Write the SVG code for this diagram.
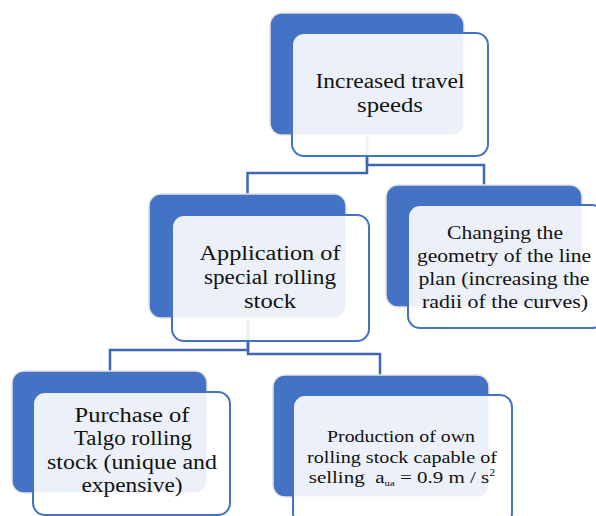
<svg xmlns="http://www.w3.org/2000/svg" width="596" height="516" viewBox="0 0 596 516">
<style>
.back{fill:#4472c4;stroke:#e4e4e4;stroke-width:1.5}
.front{fill:#ffffff;fill-opacity:0.9;stroke:#4472c4;stroke-width:2}
.conn{fill:none;stroke:#3d67b3;stroke-width:2.5}
.lbl{font-family:'Liberation Serif','Times New Roman',serif;fill:#111;text-anchor:middle}
.t20{font-size:20px}
.t19{font-size:19px}
.t17{font-size:17.5px}
</style>
<rect width="596" height="516" fill="#fff"/>
<g id="connectors">
<path class="conn" d="M367,135 V173 H247.5 V194"/>
<path class="conn" d="M367,135 V165 H484 V185"/>
<path class="conn" d="M248,318 V350 H110 V371"/>
<path class="conn" d="M248,318 V354 H380 V375"/>
</g>
<g id="n1">
<rect class="back" x="270" y="13" width="194" height="122" rx="12"/>
<rect class="front" x="292" y="33" width="196" height="123" rx="12"/>
<text class="lbl t20" x="390" y="88" textLength="149" lengthAdjust="spacingAndGlyphs">Increased travel</text>
<text class="lbl t20" x="390" y="112" textLength="66" lengthAdjust="spacingAndGlyphs">speeds</text>
</g>
<g id="n2">
<rect class="back" x="149" y="194" width="197" height="124" rx="12"/>
<rect class="front" x="172" y="215" width="197" height="126" rx="12"/>
<text class="lbl t20" x="270" y="260" textLength="141" lengthAdjust="spacingAndGlyphs">Application of</text>
<text class="lbl t20" x="270" y="284" textLength="132" lengthAdjust="spacingAndGlyphs">special rolling</text>
<text class="lbl t20" x="270" y="308" textLength="52" lengthAdjust="spacingAndGlyphs">stock</text>
</g>
<g id="n3">
<rect class="back" x="386" y="185" width="196" height="122" rx="12"/>
<rect class="front" x="408" y="205" width="196" height="123" rx="12"/>
<text class="lbl t19" x="505" y="239" textLength="116" lengthAdjust="spacingAndGlyphs">Changing the</text>
<text class="lbl t19" x="504" y="262" textLength="174" lengthAdjust="spacingAndGlyphs">geometry of the line</text>
<text class="lbl t19" x="504" y="285" textLength="171" lengthAdjust="spacingAndGlyphs">plan (increasing the</text>
<text class="lbl t19" x="505" y="308" textLength="166" lengthAdjust="spacingAndGlyphs">radii of the curves)</text>
</g>
<g id="n4">
<rect class="back" x="12" y="371" width="195" height="122" rx="12"/>
<rect class="front" x="33" y="392" width="197" height="123" rx="12"/>
<text class="lbl t20" x="132" y="422" textLength="115" lengthAdjust="spacingAndGlyphs">Purchase of</text>
<text class="lbl t20" x="133" y="445" textLength="118" lengthAdjust="spacingAndGlyphs">Talgo rolling</text>
<text class="lbl t20" x="132" y="469" textLength="170" lengthAdjust="spacingAndGlyphs">stock (unique and</text>
<text class="lbl t20" x="132" y="492" textLength="101" lengthAdjust="spacingAndGlyphs">expensive)</text>
</g>
<g id="n5">
<rect class="back" x="273" y="375" width="216" height="122" rx="12"/>
<rect class="front" x="293" y="395" width="219" height="130" rx="12"/>
<text class="lbl t17" x="401" y="442" textLength="148" lengthAdjust="spacingAndGlyphs">Production of own</text>
<text class="lbl t17" x="402" y="463" textLength="190" lengthAdjust="spacingAndGlyphs">rolling  stock capable of</text>
<text class="lbl t17" transform="translate(402,483) scale(1.2,1)" x="0" y="0" xml:space="preserve">selling  a<tspan font-size="9" dy="3">ua</tspan><tspan dy="-3"> = 0.9 m / s</tspan><tspan font-size="10" dy="-7">2</tspan></text>
</g>
</svg>
